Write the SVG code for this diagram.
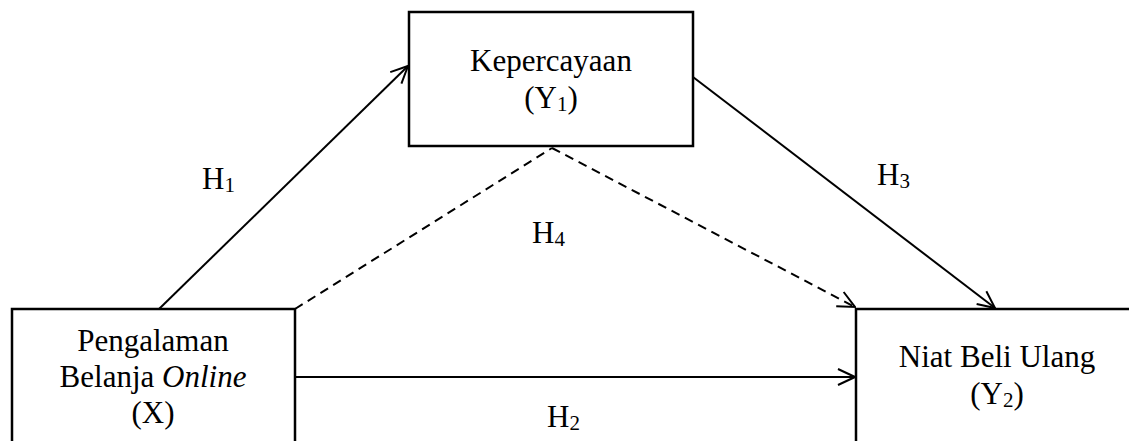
<svg xmlns="http://www.w3.org/2000/svg" width="1129" height="441" viewBox="0 0 1129 441">
<defs>
<style>
.box{fill:#fff;stroke:#000;stroke-width:2.5}
.ln{fill:none;stroke:#000;stroke-width:2}
.dash{fill:none;stroke:#000;stroke-width:2;stroke-dasharray:9,6}
.t{font-family:'Liberation Serif','Times New Roman',serif;font-size:31px;fill:#000}
.c{text-anchor:middle}
.sub{font-size:21px}
</style>
<marker id="arr" viewBox="0 0 20 20" refX="19" refY="10" markerWidth="20" markerHeight="20" markerUnits="userSpaceOnUse" orient="auto">
<path d="M2,2 L19,10 L2,18" fill="none" stroke="#000" stroke-width="2"/>
</marker>
</defs>
<rect width="1129" height="441" fill="#fff"/>
<g id="connectors">
<line class="ln" x1="159" y1="309" x2="408" y2="66" marker-end="url(#arr)"/>
<line class="ln" x1="693" y1="77" x2="995" y2="308" marker-end="url(#arr)"/>
<line class="ln" x1="295" y1="377" x2="855" y2="377" marker-end="url(#arr)"/>
<polyline class="dash" points="295,309 552,148"/>
<line class="dash" x1="552" y1="148" x2="855" y2="307" marker-end="url(#arr)"/>
</g>
<g id="node-y1" class="t" font-family="Liberation Serif, serif">
<rect class="box" x="409" y="12" width="284" height="134"/>
<text class="c" x="551" y="71">Kepercayaan</text>
<text class="c" x="551" y="108">(Y<tspan class="sub" dy="3">1</tspan><tspan dy="-3">)</tspan></text>
</g>
<g id="node-x" class="t" font-family="Liberation Serif, serif">
<rect class="box" x="12" y="309" width="283" height="150"/>
<text class="c" x="153" y="351">Pengalaman</text>
<text class="c" x="153" y="387">Belanja <tspan font-style="italic">Online</tspan></text>
<text class="c" x="153" y="423">(X)</text>
</g>
<g id="node-y2" class="t" font-family="Liberation Serif, serif">
<rect class="box" x="856" y="309" width="290" height="150"/>
<text class="c" x="997" y="367">Niat Beli Ulang</text>
<text class="c" x="997" y="404">(Y<tspan class="sub" dy="3">2</tspan><tspan dy="-3">)</tspan></text>
</g>
<g id="labels" class="t" font-family="Liberation Serif, serif">
<text x="202" y="189">H<tspan class="sub" dy="3">1</tspan></text>
<text x="532" y="243">H<tspan class="sub" dy="3">4</tspan></text>
<text x="877" y="185">H<tspan class="sub" dy="3">3</tspan></text>
<text x="547" y="427">H<tspan class="sub" dy="3">2</tspan></text>
</g>
</svg>
